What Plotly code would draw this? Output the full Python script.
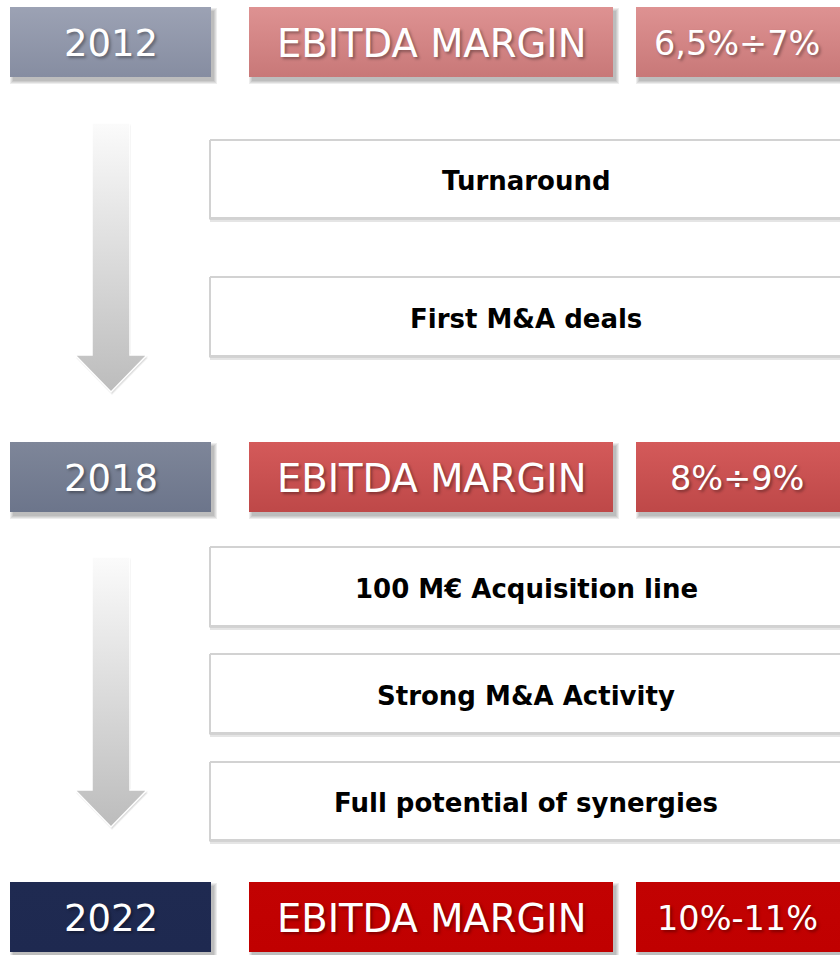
import plotly.graph_objects as go

# ---------------- data ----------------
years = ["2012", "2018", "2022"]
metric_labels = ["EBITDA MARGIN", "EBITDA MARGIN", "EBITDA MARGIN"]
margin_ranges = ["6,5%÷7%", "8%÷9%", "10%-11%"]
phase1_steps = ["Turnaround", "First M&A deals"]
phase2_steps = ["100 M€ Acquisition line", "Strong M&A Activity", "Full potential of synergies"]

# ---------------- styles / layout ----------------
W, H = 840, 955
row_y = [(7, 77), (442, 512), (882, 952)]
year_x = (10, 211)
metric_x = (249, 613)
value_x = (636, 845)
year_cols = [("#9CA2B4", "#868DA1"), ("#7E8699", "#6C758B"), ("#1F2A51", "#1E2950")]
red_cols = [("#DE9292", "#C87878"), ("#D45A5A", "#BE4848"), ("#C20202", "#C00000")]
step_x = (210, 842)
phase1_y = [(140, 218), (277, 356)]
phase2_y = [(547, 626), (654, 733), (762, 840)]
arrows = [(123, 355, 392), (557, 790, 827)]
shaft_x = (92, 130)
head_x = (75, 147)

fig = go.Figure()


def rect_xy(x0, y0, x1, y1):
    return [x0, x1, x1, x0, x0], [y0, y0, y1, y1, y0]


def add_poly(xs, ys, fill=None, grad=None, line_color="rgba(0,0,0,0)", line_width=0):
    kw = dict(x=xs, y=ys, mode="lines", fill="toself",
              line=dict(color=line_color, width=line_width),
              hoverinfo="skip", showlegend=False)
    if grad is not None:
        kw["fillgradient"] = dict(type="vertical", colorscale=[[0, grad[0]], [1, grad[1]]],
                                  start=min(ys), stop=max(ys))
    else:
        kw["fillcolor"] = fill
    fig.add_trace(go.Scatter(**kw))


def shadow(x0, y0, x1, y1, dx=3, dy=4, layers=4, alpha=0.07):
    for i in range(layers, 0, -1):
        xs, ys = rect_xy(x0 + dx - i + 1, y0 + dy - i + 1, x1 + dx + i - 1, y1 + dy + i - 1)
        add_poly(xs, ys, fill=f"rgba(0,0,0,{alpha})")


# arrows
for (top, htop, tip) in arrows:
    cx = (shaft_x[0] + shaft_x[1]) / 2
    ax = [shaft_x[0], shaft_x[1], shaft_x[1], head_x[1], cx, head_x[0], shaft_x[0], shaft_x[0]]
    ay = [top, top, htop, htop, tip, htop, htop, top]
    for i in (3, 2, 1):
        add_poly([x + 1 for x in ax], [y + i for y in ay], fill="rgba(0,0,0,0.05)")
    add_poly(ax, ay, grad=("#FBFBFB", "#BCBCBC"), line_color="#FFFFFF", line_width=1.5)

# header rows
for r, (y0, y1) in enumerate(row_y):
    for (x0, x1), cols in ((year_x, year_cols[r]), (metric_x, red_cols[r]), (value_x, red_cols[r])):
        shadow(x0, y0, x1, y1)
        xs, ys = rect_xy(x0, y0, x1, y1)
        add_poly(xs, ys, grad=(cols[0], cols[1]))

# step boxes
for (y0, y1) in phase1_y + phase2_y:
    xs, ys = rect_xy(step_x[0], y0 + 3, step_x[1], y1 + 4)
    add_poly(xs, ys, fill="rgba(0,0,0,0.10)")
    xs, ys = rect_xy(step_x[0] - 1, y0 + 1, step_x[1], y1 + 2)
    add_poly(xs, ys, fill="rgba(0,0,0,0.08)")
    xs, ys = rect_xy(step_x[0], y0, step_x[1], y1)
    add_poly(xs, ys, fill="#FFFFFF", line_color="#D2D2D2", line_width=2)

annotations = []
tshadow = "2px 2px 3px rgba(0,0,0,0.35)"
for r, (y0, y1) in enumerate(row_y):
    cy = (y0 + y1) / 2 + 1
    annotations.append(dict(x=(year_x[0] + year_x[1]) / 2, y=cy, text=years[r],
                            font=dict(family="DejaVu Sans", size=37, color="white", shadow=tshadow)))
    annotations.append(dict(x=(metric_x[0] + metric_x[1]) / 2, y=cy, text=metric_labels[r],
                            font=dict(family="DejaVu Sans", size=38.5, color="white", shadow=tshadow)))
    annotations.append(dict(x=737, y=cy, text=margin_ranges[r],
                            font=dict(family="DejaVu Sans", size=33.5, color="white", shadow=tshadow)))

for label, (y0, y1) in zip(phase1_steps + phase2_steps, phase1_y + phase2_y):
    annotations.append(dict(x=526, y=(y0 + y1) / 2 + 2, text=f"<b>{label}</b>",
                            font=dict(family="DejaVu Sans", size=26, color="black")))

for a in annotations:
    a.update(xref="x", yref="y", showarrow=False, xanchor="center", yanchor="middle")

fig.update_layout(
    width=W, height=H,
    margin=dict(l=0, r=0, t=0, b=0),
    paper_bgcolor="white", plot_bgcolor="white",
    xaxis=dict(range=[0, W], visible=False, fixedrange=True),
    yaxis=dict(range=[H, 0], visible=False, fixedrange=True),
    annotations=annotations,
    showlegend=False,
)

fig.write_html("out.html", config={"displayModeBar": False, "staticPlot": True},
               post_script="document.body.style.margin='0';")
